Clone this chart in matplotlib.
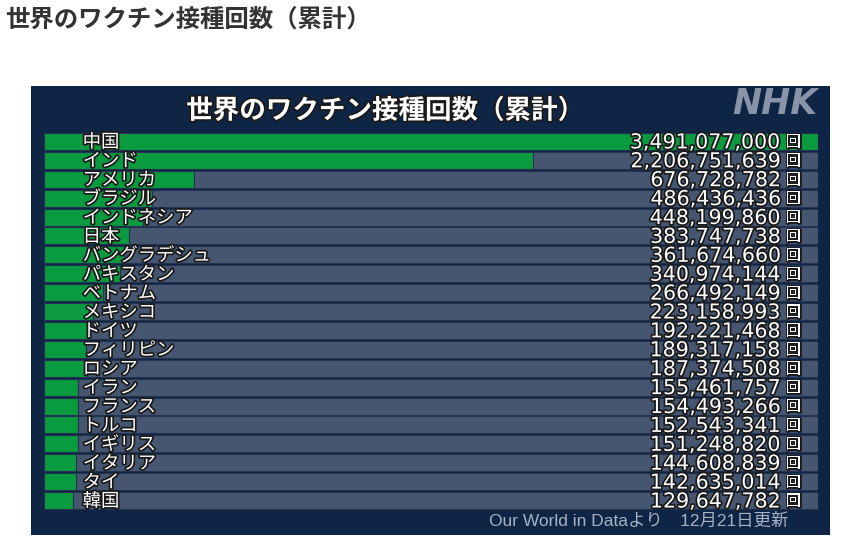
import matplotlib
matplotlib.use("Agg")
import matplotlib.pyplot as plt
import matplotlib.patheffects as pe
from matplotlib.patches import Rectangle

plt.rcParams['font.family'] = ['Noto Sans CJK JP', 'DejaVu Sans']

# データ
countries = ["中国", "インド", "アメリカ", "ブラジル", "インドネシア", "日本",
             "バングラデシュ", "パキスタン", "ベトナム", "メキシコ", "ドイツ",
             "フィリピン", "ロシア", "イラン", "フランス", "トルコ", "イギリス",
             "イタリア", "タイ", "韓国"]
doses = [3491077000, 2206751639, 676728782, 486436436, 448199860, 383747738,
         361674660, 340974144, 266492149, 223158993, 192221468, 189317158,
         187374508, 155461757, 154493266, 152543341, 151248820, 144608839,
         142635014, 129647782]
page_title = "世界のワクチン接種回数（累計）"
source_note = "Our World in Dataより　12月21日更新"

W, H = 847, 543
navy = "#0f2545"
green = "#0a9a40"
grey = "#475670"

fig = plt.figure(figsize=(W / 100, H / 100), dpi=100)
fig.patch.set_facecolor("white")

def px(x, y):
    # ピクセル座標 -> figure座標
    return x / W, 1 - y / H

# 見出し
fig.text(*px(5, 20), page_title, fontsize=17.6, fontweight="bold",
         color="#333333", va="center", ha="left")

# パネル
fig.patches.append(Rectangle(px(31, 535), 799 / W, 449 / H,
                             transform=fig.transFigure, facecolor=navy,
                             edgecolor="none", zorder=-10))

outline = [pe.withStroke(linewidth=2.5, foreground="#1a1a1a")]

fig.text(*px(385, 111), page_title, fontsize=19.1, fontweight="bold",
         color="white", ha="center", va="center", path_effects=outline)
fig.text(*px(775, 104), "NHK", fontsize=25, fontweight="heavy",
         fontstyle="italic", family="DejaVu Sans", color="#8994a8",
         ha="center", va="center")
fig.text(*px(788, 521), source_note, fontsize=12.5,
         family=["Liberation Sans", "Noto Sans CJK JP"], color="#a6b1c4",
         ha="right", va="center")

# 棒グラフ
n = len(countries)
ax = fig.add_axes([44 / W, (H - 510) / H, 774 / W, 378 / H])
ax.set_facecolor("none")
ypos = list(range(n))
vmax = max(doses)
ax.barh(ypos, [vmax] * n, height=0.9, color=grey, edgecolor="#223350",
        linewidth=0.8)
ax.barh(ypos, doses, height=0.9, color=green, edgecolor="#223350",
        linewidth=0.8)
ax.set_xlim(0, vmax)
ax.set_ylim(n - 0.5, -0.5)
ax.axis("off")

ytr = ax.get_yaxis_transform()
for i, (c, v) in enumerate(zip(countries, doses)):
    ax.text(0.05, i + 0.05, c, transform=ytr, fontsize=13.2,
            color="white", ha="left", va="center", path_effects=outline)
    ax.text(0.951, i + 0.05, f"{v:,}", transform=ytr,
            fontsize=14.8, family="DejaVu Sans", color="white", ha="right",
            va="center", path_effects=outline)
    ax.text(0.968, i + 0.03, "回", transform=ytr, fontsize=11,
            color="white", ha="center", va="center",
            path_effects=[pe.withStroke(linewidth=2, foreground="#1a1a1a")])

fig.savefig("out.png", dpi=100, facecolor=fig.get_facecolor())
